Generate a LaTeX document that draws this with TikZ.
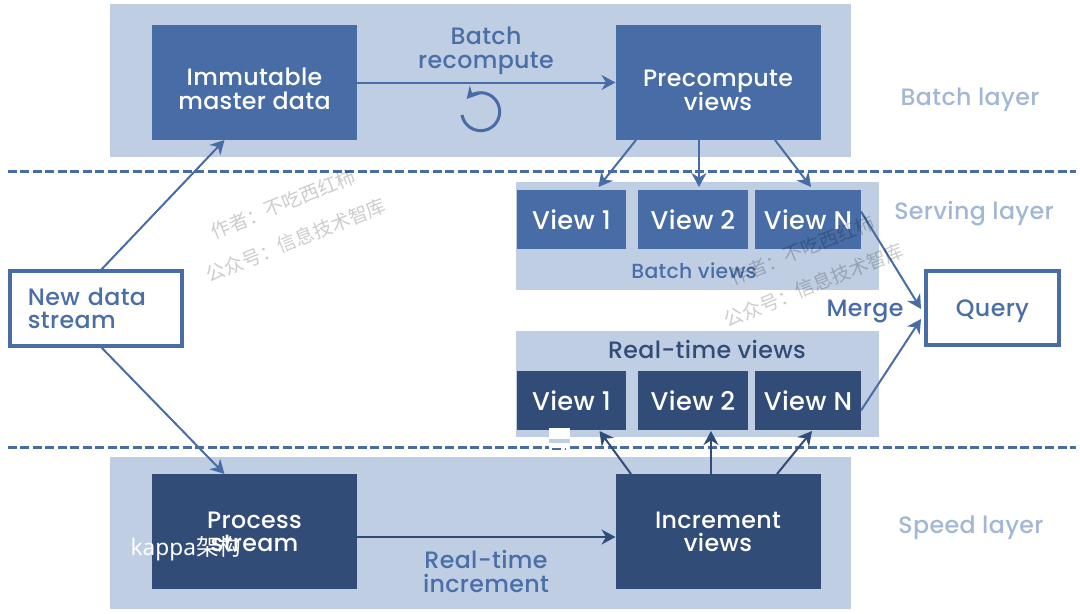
\documentclass[tikz,border=0pt]{standalone}
\usepackage{fontspec}
\setmainfont{Poppins Medium}[LetterSpace=1.5]
\newfontfamily\cjk{Noto Sans CJK SC}
\newfontfamily\latinwm{Noto Sans}
\usetikzlibrary{arrows.meta}
\definecolor{midblue}{HTML}{476CA6}
\definecolor{darkblue}{HTML}{324C78}
\definecolor{layerbg}{HTML}{BFCEE3}
\definecolor{softtext}{HTML}{A2B7D5}
\definecolor{inktext}{HTML}{4A6EA6}
\newdimen\p \p=0.02cm
\newcommand{\fs}[1]{\fontsize{#1}{13.6}\selectfont\lineskiplimit=-20pt\relax}
% first-line strut: optional height
\newcommand{\ftop}[1][15.7pt]{\rule[-3pt]{0pt}{#1}}
\newcommand{\fbot}{\rule[-3pt]{0pt}{0pt}}
\tikzset{
 x=0.02cm,y=-0.02cm,
 base/.style={inner sep=0,outer sep=0,align=center,font=\fs{13.5}},
 panel/.style={base,fill=layerbg,minimum width=#1*\p},
 bigbox/.style={base,text=white,minimum width=205*\p,minimum height=115*\p},
 midbig/.style={bigbox,fill=midblue},
 darkbig/.style={bigbox,fill=darkblue},
 viewbox/.style={base,text=white,minimum height=59*\p,font=\fs{14.6}},
 outlined/.style={base,draw=midblue,fill=white,line width=4*\p,text=inktext},
 lbl/.style={base,text=inktext},
 layerlbl/.style={base,text=softtext},
 flow/.style={draw=midblue,line width=2*\p,-{Stealth[length=0.28cm,width=0.3cm]}},
 darkflow/.style={draw=darkblue,line width=2*\p,-{Stealth[length=0.28cm,width=0.3cm]}},
 sepline/.style={draw=midblue,line width=3*\p,dash pattern=on 0.18cm off 0.07cm},
 wmark/.style={base,text=black,text opacity=0.2,font=\cjk\fs{10.9},rotate=22},
}
\begin{document}
\begin{tikzpicture}
\useasboundingbox (0,0) rectangle (1080,613);
% panels
\node[panel=741,minimum height=153*\p] (batchbg) at (480.5,80.5) {};
\node[panel=363,minimum height=108*\p] (servup) at (697.5,236) {};
\node[panel=363,minimum height=106*\p] (servlo) at (697.5,384) {};
\node[panel=741,minimum height=152*\p] (speedbg) at (480.5,533) {};
% main boxes
\node[midbig] (master) at (254.5,82.5) {\ftop[23.1pt]Immutable\\master data\fbot};
\node[midbig] (precomp) at (718,82.5) {\ftop[24.2pt]Precompute\\views\fbot};
\node[darkbig] (process) at (254.5,531.5) {\ftop Process\\stream\fbot};
\node[darkbig] (incr) at (718,531.5) {\ftop Increment\\views\fbot};
% views
\node[viewbox,fill=midblue,minimum width=109*\p] (bv1) at (571.5,219.5) {View 1};
\node[viewbox,fill=midblue,minimum width=110*\p] (bv2) at (693,219.5) {View 2};
\node[viewbox,fill=midblue,minimum width=106*\p] (bvn) at (808,219.5) {View N};
\node[viewbox,fill=darkblue,minimum width=109*\p] (rv1) at (571.5,400.5) {View 1};
\node[viewbox,fill=darkblue,minimum width=110*\p] (rv2) at (693,400.5) {View 2};
\node[viewbox,fill=darkblue,minimum width=106*\p] (rvn) at (808,400.5) {View N};
% outlined
\node[outlined,minimum width=172*\p,minimum height=75*\p,text width=136*\p,align=left] (source) at (96,308.5) {\ftop New data\\stream\fbot};
\node[outlined,minimum width=133*\p,minimum height=74*\p] (query) at (992.5,308) {\rule{0pt}{13.4pt}Query};
% separators
\coordinate (sa) at (8,171); \coordinate (sb) at (1076,171);
\coordinate (sc) at (8,447); \coordinate (sd) at (1076,447);
\draw[sepline] (sa) -- (sb);
\draw[sepline] (sc) -- (sd);
% connectors
\draw[flow] ([xshift=4*\p]source.north) -- ([xshift=-30*\p]master.south);
\draw[flow] ([xshift=4*\p]source.south) -- ([xshift=-30*\p]process.north);
\draw[flow] (master.east) -- (precomp.west);
\draw[darkflow] ([yshift=-5.5*\p]process.east) -- ([yshift=-5.5*\p]incr.west);
\draw[flow] ([xshift=-82*\p]precomp.south) -- ([xshift=27*\p,yshift=3*\p]bv1.north);
\draw[flow] ([xshift=-19*\p]precomp.south) -- ([xshift=6*\p,yshift=3*\p]bv2.north);
\draw[flow] ([xshift=57*\p]precomp.south) -- ([xshift=3*\p,yshift=3*\p]bvn.north);
\draw[darkflow] ([xshift=-87*\p]incr.north) -- ([xshift=28*\p,yshift=-1*\p]rv1.south);
\draw[darkflow] ([xshift=-7*\p]incr.north) -- ([xshift=18*\p,yshift=-1*\p]rv2.south);
\draw[darkflow] ([xshift=59*\p]incr.north) -- ([xshift=4*\p,yshift=-1*\p]rvn.south);
\draw[flow] ([yshift=8*\p]bvn.east) -- ([xshift=-5*\p,yshift=-1*\p]query.west);
\draw[flow] ([yshift=-10*\p]rvn.east) -- ([xshift=-5*\p,yshift=-11*\p]query.west);
% loop symbol
\draw[draw=midblue,line width=3*\p,-{Stealth[length=0.24cm,width=0.26cm]}] (462,115) arc[start angle=-170,end angle=138,radius=19*\p];
% labels
\node[lbl] (brec) at (486,48) {\ftop Batch\\recompute\fbot};
\node[lbl] (rtin) at (486,573) {\ftop[14.6pt]Real-time\\increment\fbot};
\node[lbl,font=\fs{11.6}] (bvl) at (694,271) {Batch views};
\node[base,text=darkblue] (rvl) at (707,349) {Real-time views};
\node[base,text=midblue] (mrg) at (865,311) {Merge};
\node[layerlbl] (l1) at (970,100) {Batch layer};
\node[layerlbl] (l2) at (974,214) {Serving layer};
\node[layerlbl] (l3) at (971,528) {Speed layer};
% watermarks
\node[wmark] (w1) at (283,204) {作者：不吃西红柿};
\node[wmark] (w2) at (296,240) {公众号：信息技术智库};
\node[wmark] (w3) at (802,250) {作者：不吃西红柿};
\node[wmark] (w4) at (814,285) {公众号：信息技术智库};
% patch
\node[base,fill=white,minimum width=21*\p,minimum height=28*\p] (patch) at (559.5,442) {};
\node[base,fill=layerbg,minimum width=21*\p,minimum height=4*\p] (patchb) at (559.5,441) {};
\coordinate (pa) at (552,449); \coordinate (pb) at (566,449);
\draw[sepline,line width=2*\p] (pa) -- (pb);
\node[base,text=white,font=\fs{12.9}] (kappa) at (186,549) {\latinwm kappa\cjk 架构};
\end{tikzpicture}
\end{document}
